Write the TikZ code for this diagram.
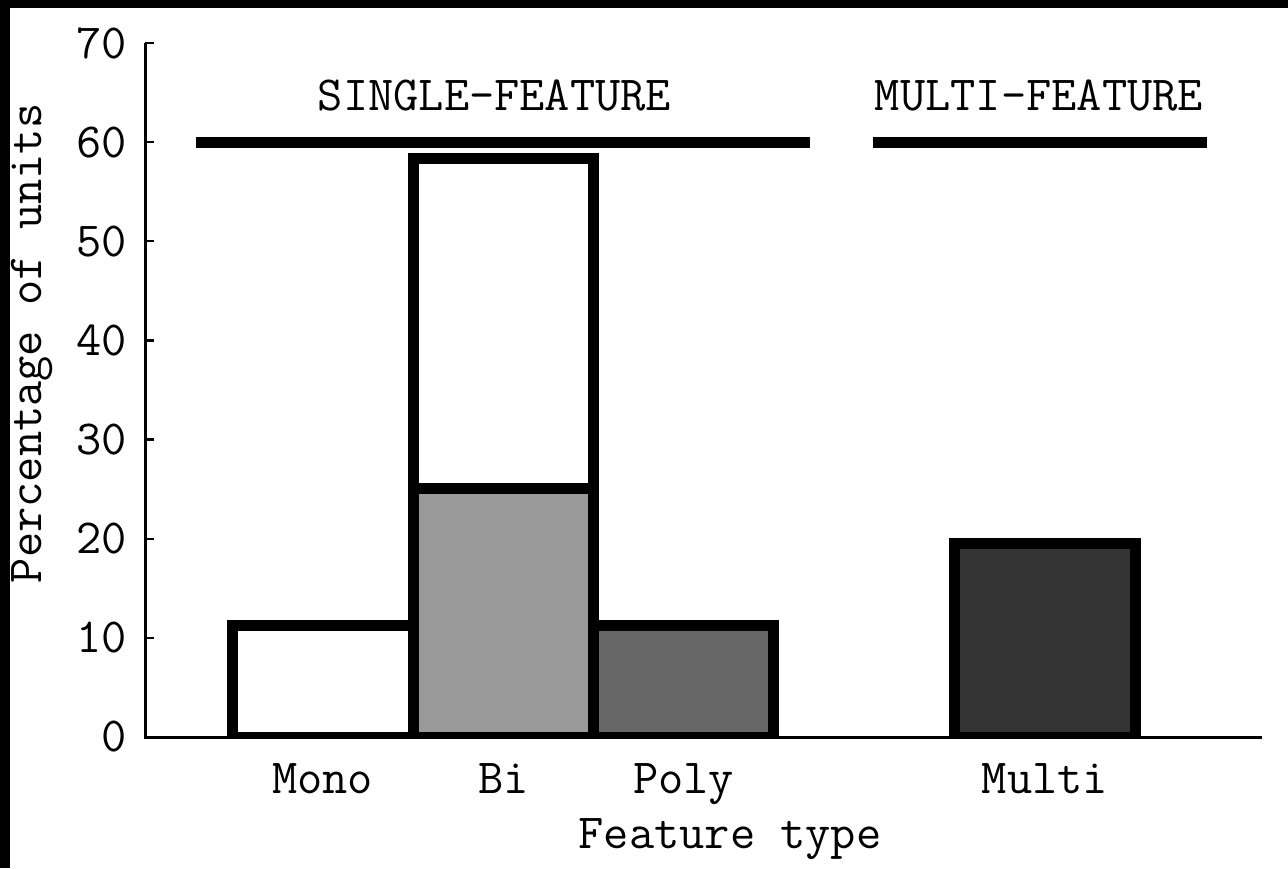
\documentclass[tikz,border=0pt]{standalone}
\usepackage{tikz}
\usetikzlibrary{positioning,calc}

\tikzset{
    bar/.style={line width=5.5pt, draw=black},
    axisline/.style={line width=1.5pt},
    bracket/.style={line width=5.5pt},
    lbl/.style={font=\ttfamily\fontsize{24.5}{28}\selectfont, inner sep=0pt}
}

\begin{document}
\begin{tikzpicture}[x=0.5pt, y=4.957pt]
    \useasboundingbox[fill=white] (-145,-13.214) rectangle (1143,74.339);
    % scan edges
    \fill[black] (-145,73.532) rectangle (1143,74.339);
    \fill[black] (-145,-13.214) rectangle (-134.5,74.339);
    % bars, bottom half of the frame hidden by the axis
    \begin{scope}
        \clip (-20,0) rectangle (1100,72);
        \draw[bar, fill=white] (87.5,0) rectangle (268,11.2);
        \draw[bar, fill=white] (268,25.1) rectangle (448.5,58.35);
        \draw[bar, fill=black!40] (268,0) rectangle (448.5,25.1);
        \draw[bar, fill=black!60] (448.5,0) rectangle (628.5,11.2);
        \draw[bar, fill=black!80] (809.5,0) rectangle (990.5,19.5);
    \end{scope}
    % axes
    \coordinate (o) at (0,0);
    \coordinate (xend) at (1117,0);
    \coordinate (yend) at (0,70);
    \draw[axisline] (xend) -- (o) -- (yend);
    \foreach \y in {0,10,...,70} {
        \draw[line width=1.2pt] (0,\y) -- (9,\y);
        \node[lbl, anchor=east] (t\y) at (-18,\y) {\y};
    }
    % groups
    \coordinate (sa) at (51,60);
    \coordinate (sb) at (665,60);
    \coordinate (ma) at (728,60);
    \coordinate (mb) at (1062,60);
    \draw[bracket] (sa) -- (sb);
    \draw[bracket] (ma) -- (mb);
    \node[lbl] (single) at (349.5,64.7) {SINGLE-FEATURE};
    \node[lbl] (multi) at (894,64.7) {MULTI-FEATURE};
    % labels
    \node[lbl, anchor=base] (mono) at (177.75,-5.65) {Mono};
    \node[lbl, anchor=base] (bi) at (358.25,-5.65) {Bi};
    \node[lbl, anchor=base] (poly) at (538.5,-5.65) {Poly};
    \node[lbl, anchor=base] (multibar) at (900,-5.65) {Multi};
    \node[lbl, anchor=base] (xlabel) at (585,-11.2) {Feature type};
    \node[lbl, anchor=base, rotate=90] (ylabel) at (-103,39.7) {Percentage of units};
\end{tikzpicture}
\end{document}
